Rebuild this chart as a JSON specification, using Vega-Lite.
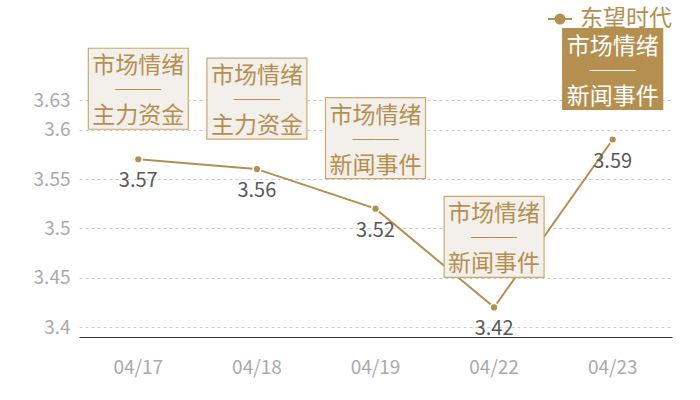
{
  "$schema": "https://vega.github.io/schema/vega-lite/v6.json",
  "width": 593,
  "height": 237,
  "autosize": {"type": "none"},
  "padding": {"left": 79, "top": 100, "right": 28, "bottom": 63},
  "background": "white",
  "config": {
    "font": "Noto Sans CJK SC",
    "view": {"stroke": null}
  },
  "data": {
    "values": [
      {"date": "04/17", "value": 3.57, "series": "东望时代", "note": "市场情绪\n──\n主力资金"},
      {"date": "04/18", "value": 3.56, "series": "东望时代", "note": "市场情绪\n──\n主力资金"},
      {"date": "04/19", "value": 3.52, "series": "东望时代", "note": "市场情绪\n──\n新闻事件"},
      {"date": "04/22", "value": 3.42, "series": "东望时代", "note": "市场情绪\n──\n新闻事件"},
      {"date": "04/23", "value": 3.59, "series": "东望时代", "note": "市场情绪\n──\n新闻事件"}
    ]
  },
  "encoding": {
    "x": {
      "field": "date",
      "type": "ordinal",
      "sort": null,
      "scale": {"paddingInner": 0, "paddingOuter": 0},
      "axis": {
        "title": null,
        "labelAngle": 0,
        "ticks": false,
        "domainColor": "#333333",
        "domainWidth": 1.2,
        "labelColor": "#AAAAAA",
        "labelFontSize": 19,
        "labelPadding": 21
      }
    },
    "y": {
      "field": "value",
      "type": "quantitative",
      "scale": {"domain": [3.39, 3.63], "zero": false, "nice": false},
      "axis": {
        "title": null,
        "values": [3.4, 3.45, 3.5, 3.55, 3.6, 3.63],
        "format": "~g",
        "domain": false,
        "ticks": false,
        "labelColor": "#AAAAAA",
        "labelFontSize": 19,
        "labelPadding": 9,
        "gridColor": "#CCCCCC",
        "gridDash": [3, 3],
        "gridWidth": 1
      }
    }
  },
  "layer": [
    {
      "mark": {
        "type": "line",
        "strokeWidth": 2,
        "point": {"filled": true, "size": 60, "stroke": "white", "strokeWidth": 1.5, "color": "#B58F4F"}
      },
      "encoding": {
        "color": {
          "field": "series",
          "type": "nominal",
          "scale": {"range": ["#B58F4F"]},
          "legend": {
            "title": null,
            "orient": "none",
            "legendX": 468,
            "legendY": -94,
            "symbolType": "M-1,0H1M0.375,0A0.375,0.375 0 1,1 -0.375,0A0.375,0.375 0 1,1 0.375,0Z",
            "symbolSize": 576,
            "symbolFillColor": "#B58F4F",
            "symbolStrokeColor": "#C9A86E",
            "symbolStrokeWidth": 2,
            "labelColor": "#B58F4F",
            "labelFontSize": 23,
            "labelOffset": 7
          }
        }
      }
    },
    {
      "mark": {"type": "text", "dy": 22, "fontSize": 20, "color": "#595959", "baseline": "middle"},
      "encoding": {"text": {"field": "value", "type": "quantitative", "format": ".2f"}}
    },
    {
      "mark": {"type": "bar", "width": 100, "yOffset": -111, "y2Offset": -30, "strokeWidth": 1.2},
      "encoding": {
        "y2": {"field": "value"},
        "fill": {
          "condition": {"test": "datum.date === '04/23'", "value": "#B58F4F"},
          "value": "#F3F0EB"
        },
        "stroke": {
          "condition": {"test": "datum.date === '04/23'", "value": "#B58F4F"},
          "value": "#C9A86E"
        }
      }
    },
    {
      "mark": {"type": "text", "lineBreak": "\n", "lineHeight": 25, "fontSize": 23, "baseline": "middle", "dy": -93},
      "encoding": {
        "text": {"field": "note"},
        "color": {
          "condition": {"test": "datum.date === '04/23'", "value": "white"},
          "value": "#B58F4F"
        }
      }
    }
  ]
}
